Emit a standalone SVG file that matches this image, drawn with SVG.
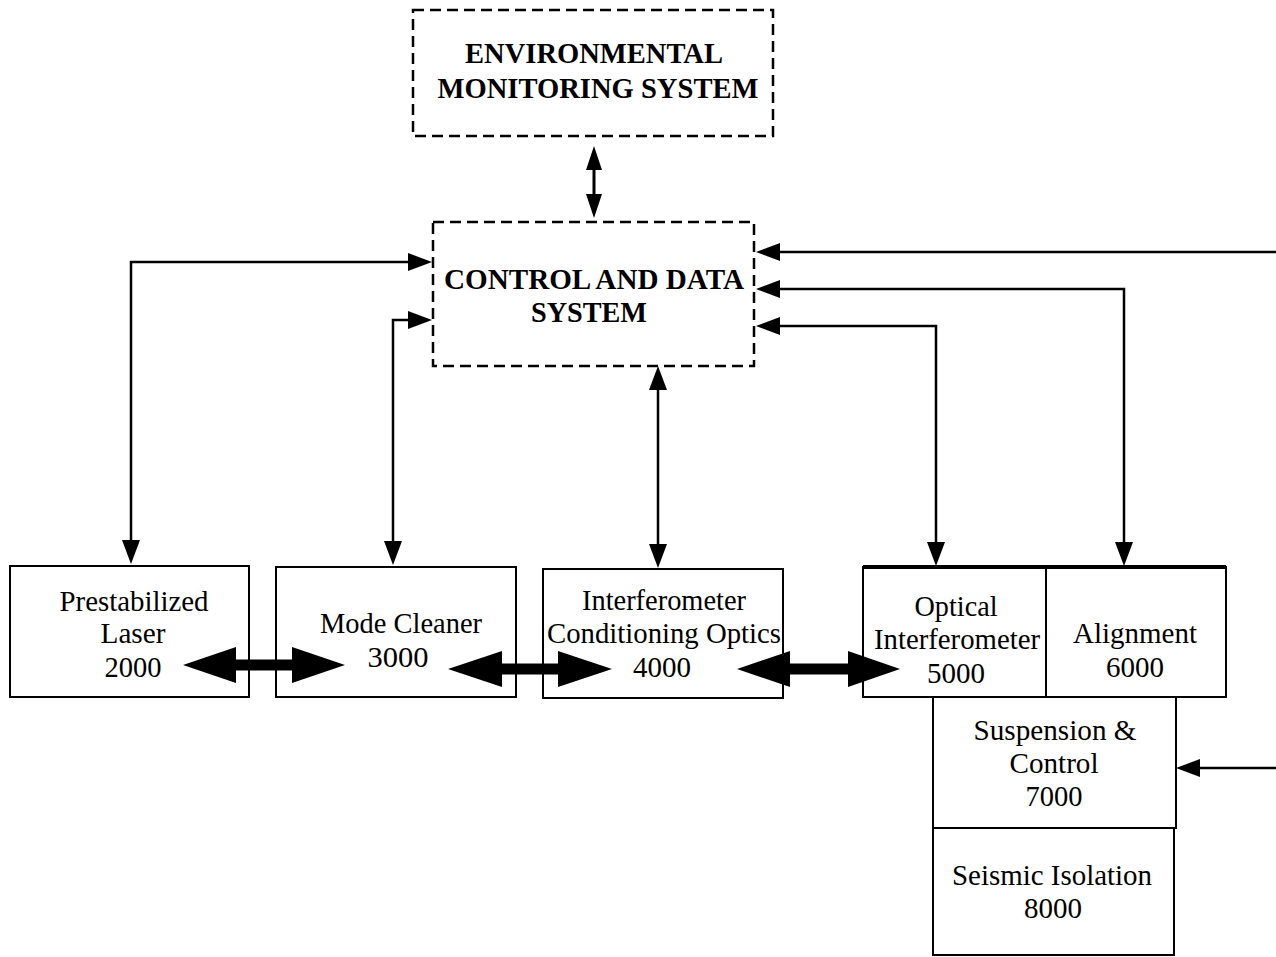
<svg xmlns="http://www.w3.org/2000/svg" width="1276" height="957" viewBox="0 0 1276 957">
<defs>
<style>
.box{fill:#fff;stroke:#000;stroke-width:2}
.dash{fill:none;stroke:#000;stroke-width:2.5;stroke-dasharray:11 6}
.ln{fill:none;stroke:#000;stroke-width:2.5}
.thick{fill:none;stroke:#000;stroke-width:11}
.hd{fill:#000}
.tb{font-family:"Liberation Serif","Times New Roman",serif;font-weight:bold;font-size:30px;text-anchor:middle;fill:#000}
.tr{font-family:"Liberation Serif","Times New Roman",serif;font-size:30px;text-anchor:middle;fill:#000}
</style>
</defs>
<rect width="1276" height="957" fill="#fff"/>

<g id="ems">
<rect class="dash" x="413" y="10" width="360" height="126"/>
<text class="tb" x="594" y="63" textLength="258" lengthAdjust="spacingAndGlyphs">ENVIRONMENTAL</text>
<text class="tb" x="598" y="98" textLength="321" lengthAdjust="spacingAndGlyphs">MONITORING SYSTEM</text>
</g>

<g id="cds">
<rect class="dash" x="433" y="222" width="321" height="144"/>
<text class="tb" x="594" y="289" textLength="300" lengthAdjust="spacingAndGlyphs">CONTROL AND DATA</text>
<text class="tb" x="589" y="322" textLength="116" lengthAdjust="spacingAndGlyphs">SYSTEM</text>
</g>

<g id="laser">
<rect class="box" x="10" y="566" width="239" height="131"/>
<text class="tr" x="134" y="611" textLength="149" lengthAdjust="spacingAndGlyphs">Prestabilized</text>
<text class="tr" x="133" y="643" textLength="65" lengthAdjust="spacingAndGlyphs">Laser</text>
<text class="tr" x="133" y="677" textLength="57" lengthAdjust="spacingAndGlyphs">2000</text>
</g>

<g id="modecleaner">
<rect class="box" x="276" y="567" width="240" height="130"/>
<text class="tr" x="401" y="633" textLength="162" lengthAdjust="spacingAndGlyphs">Mode Cleaner</text>
<text class="tr" x="398" y="667" textLength="61" lengthAdjust="spacingAndGlyphs">3000</text>
</g>

<g id="ico">
<rect class="box" x="543" y="569" width="240" height="129"/>
<text class="tr" x="664" y="610" textLength="164" lengthAdjust="spacingAndGlyphs">Interferometer</text>
<text class="tr" x="664" y="643" textLength="234" lengthAdjust="spacingAndGlyphs">Conditioning Optics</text>
<text class="tr" x="662" y="677" textLength="58" lengthAdjust="spacingAndGlyphs">4000</text>
</g>

<g id="oi">
<rect class="box" x="863" y="567" width="183" height="130"/>
<line x1="863" y1="567" x2="1046" y2="567" stroke="#000" stroke-width="4"/>
<text class="tr" x="956" y="616" textLength="83" lengthAdjust="spacingAndGlyphs">Optical</text>
<text class="tr" x="957" y="649" textLength="166" lengthAdjust="spacingAndGlyphs">Interferometer</text>
<text class="tr" x="956" y="683" textLength="58" lengthAdjust="spacingAndGlyphs">5000</text>
</g>

<g id="alignment">
<rect class="box" x="1046" y="567" width="180" height="130"/>
<line x1="1046" y1="567" x2="1226" y2="567" stroke="#000" stroke-width="4"/>
<text class="tr" x="1135" y="643" textLength="124" lengthAdjust="spacingAndGlyphs">Alignment</text>
<text class="tr" x="1135" y="677" textLength="58" lengthAdjust="spacingAndGlyphs">6000</text>
</g>

<g id="suspension">
<rect class="box" x="933" y="697" width="243" height="131"/>
<text class="tr" x="1055" y="740" textLength="163" lengthAdjust="spacingAndGlyphs">Suspension &amp;</text>
<text class="tr" x="1054" y="773" textLength="89" lengthAdjust="spacingAndGlyphs">Control</text>
<text class="tr" x="1054" y="806" textLength="57" lengthAdjust="spacingAndGlyphs">7000</text>
</g>

<g id="seismic">
<rect class="box" x="933" y="828" width="241" height="127"/>
<text class="tr" x="1052" y="885" textLength="200" lengthAdjust="spacingAndGlyphs">Seismic Isolation</text>
<text class="tr" x="1053" y="918" textLength="58" lengthAdjust="spacingAndGlyphs">8000</text>
</g>

<g id="connectors">
<!-- EMS <-> CDS -->
<line x1="594" y1="166" x2="594" y2="198" stroke="#000" stroke-width="3"/>
<path class="hd" d="M594,146 L586,170 L602,170 Z"/>
<path class="hd" d="M594,218 L586,194 L602,194 Z"/>
<!-- Laser -->
<path class="ln" d="M412,262 L131,262 L131,545"/>
<path class="hd" d="M432,262 L408,253 L408,271 Z"/>
<path class="hd" d="M131,564 L122,540 L140,540 Z"/>
<!-- Mode cleaner -->
<path class="ln" d="M412,320 L393,320 L393,545"/>
<path class="hd" d="M432,320 L408,311 L408,329 Z"/>
<path class="hd" d="M393,565 L384,541 L402,541 Z"/>
<!-- ICO -->
<path class="ln" d="M658,386 L658,548"/>
<path class="hd" d="M658,366 L649,390 L667,390 Z"/>
<path class="hd" d="M658,568 L649,544 L667,544 Z"/>
<!-- right top -->
<path class="ln" d="M1276,252 L775,252"/>
<path class="hd" d="M756,252 L780,243 L780,261 Z"/>
<path class="ln" d="M775,289 L1124,289 L1124,545"/>
<path class="hd" d="M756,289 L780,280 L780,298 Z"/>
<path class="hd" d="M1124,566 L1115,542 L1133,542 Z"/>
<path class="ln" d="M775,326 L936,326 L936,545"/>
<path class="hd" d="M756,326 L780,317 L780,335 Z"/>
<path class="hd" d="M936,566 L927,542 L945,542 Z"/>
<!-- suspension -->
<path class="ln" d="M1276,768 L1195,768"/>
<path class="hd" d="M1176,768 L1200,759 L1200,777 Z"/>
<!-- thick double arrows -->
<path class="thick" d="M230,665 L298,665"/>
<path class="hd" d="M183,665 L236,647 L236,683 Z"/>
<path class="hd" d="M345,665 L292,647 L292,683 Z"/>
<path class="thick" d="M496,669 L564,669"/>
<path class="hd" d="M448,669 L502,651 L502,687 Z"/>
<path class="hd" d="M612,669 L558,651 L558,687 Z"/>
<path class="thick" d="M784,669 L854,669"/>
<path class="hd" d="M737,669 L790,651 L790,687 Z"/>
<path class="hd" d="M900,669 L848,651 L848,687 Z"/>
</g>
</svg>
